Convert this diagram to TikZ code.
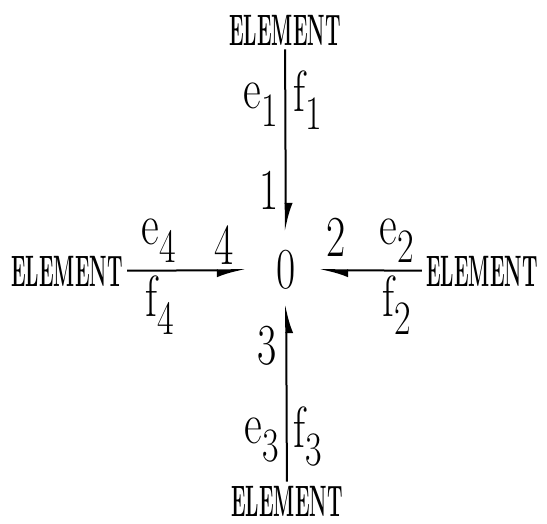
\documentclass[tikz,border=0pt]{standalone}
\usetikzlibrary{arrows.meta}
\newcommand{\squeeze}[2]{\scalebox{#1}[1]{#2}}
\newcommand{\pv}[2]{\squeeze{0.75}{#1\raisebox{-9pt}{\fontsize{24}{24}\selectfont #2}}}

\begin{document}
\begin{tikzpicture}[
  x=0.5pt, y=-0.5pt,
  elem/.style={inner sep=2pt, font=\bfseries\fontsize{22}{24}\selectfont},
  var/.style={inner sep=0pt, font=\fontsize{29}{31}\selectfont},
  bond/.style={line width=1pt},
  hr/.style={-{Latex[right,length=12pt,width=7pt]}},
  hl/.style={-{Latex[left,length=12pt,width=7pt]}}
]
\useasboundingbox (0,0) rectangle (547,524);
\node[var] (zero) at (286,270) {\squeeze{0.72}{0}};
\node[elem] (top) at (285,30) {\squeeze{0.45}{ELEMENT}};
\node[elem] (left) at (67,271) {\squeeze{0.45}{ELEMENT}};
\node[elem] (right) at (482,271) {\squeeze{0.45}{ELEMENT}};
\node[elem] (bottom) at (287,501) {\squeeze{0.45}{ELEMENT}};

% bonds
\draw[bond, hl, shorten >=9pt] (top) -- (zero);
\draw[bond, hr, shorten >=15pt] (left) -- (zero);
\draw[bond, hl, shorten >=11.5pt] (right) -- (zero);
\draw[bond, hr, shorten >=7pt] (bottom) -- (zero);

% efforts, flows and bond numbers
\node[var] (e1) at (261,105) {\pv{e}{1}};
\node[var] (f1) at (308,100) {\pv{f}{1}};
\node[var] (n1) at (269,190) {\squeeze{0.72}{1}};
\node[var] (e4) at (159,241) {\pv{e}{4}};
\node[var] (n4) at (224,245) {\squeeze{0.72}{4}};
\node[var] (f4) at (160,305) {\pv{f}{4}};
\node[var] (n2) at (336,237) {\squeeze{0.72}{2}};
\node[var] (e2) at (397,241) {\pv{e}{2}};
\node[var] (f2) at (397,305) {\pv{f}{2}};
\node[var] (n3) at (267,346) {\squeeze{0.72}{3}};
\node[var] (e3) at (262,440) {\pv{e}{3}};
\node[var] (f3) at (308,437) {\pv{f}{3}};
\end{tikzpicture}
\end{document}
